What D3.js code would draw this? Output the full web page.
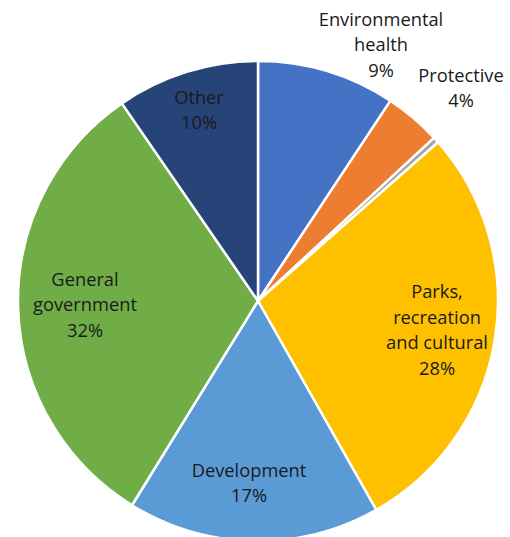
<!DOCTYPE html>
<html><head><meta charset="utf-8">
<script src="https://cdn.jsdelivr.net/npm/d3@7/dist/d3.min.js"></script>
<style>body{margin:0;background:#fff}svg{display:block}</style>
</head><body>
<svg id="chart" width="510" height="537"></svg>
<script>
const categories = ["Environmental health","Protective","Other services","Parks, recreation and cultural","Development","General government","Other"];
const values = [9.3, 3.8, 0.4, 28.3, 17.0, 31.6, 9.6];
const labelLines = [["Environmental","health","9%"],["Protective","4%"],[],["Parks,","recreation","and cultural","28%"],["Development","17%"],["General","government","32%"],["Other","10%"]];
const colors = ["#4472C4","#ED7D31","#A5A5A5","#FFC000","#5B9BD5","#70AD47","#264478"];

// label layout (offsets of text-block centres from pie centre)
const labelOffsets = [[123,-256],[203,-213],null,[179,29],[-9,182],[-173,4],[-59,-191]];

const svg = d3.select("#chart");
const cx = 258, cy = 301, R = 240;
const g = svg.append("g").attr("transform",`translate(${cx},${cy})`);
const pie = d3.pie().sort(null).value(d=>d)(values);
const arc = d3.arc().innerRadius(0).outerRadius(R);
g.selectAll("path").data(pie).join("path")
  .attr("d",arc).attr("fill",(d,i)=>colors[i])
  .attr("stroke","#fff").attr("stroke-width",2.5).attr("stroke-linejoin","round");

const lh = 25.5;
labelLines.forEach((lines,i)=>{
  if(!lines.length) return;
  const [ox,oy] = labelOffsets[i];
  const t = g.append("text").attr("text-anchor","middle")
    .attr("font-family","'Open Sans', sans-serif").attr("font-size",18.3).attr("fill","#1a1a1a");
  const top = oy - (lines.length-1)*lh/2;
  lines.forEach((s,k)=>{
    t.append("tspan").attr("x",ox).attr("y",top+k*lh).attr("dy","0.35em").text(s);
  });
});
</script>
</body></html>
